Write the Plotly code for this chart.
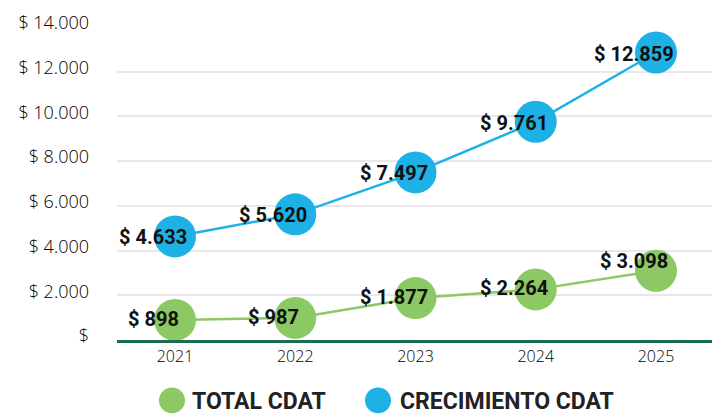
import plotly.graph_objects as go

years = ["2021", "2022", "2023", "2024", "2025"]
total_cdat = [898, 987, 1877, 2264, 3098]
crecimiento_cdat = [4633, 5620, 7497, 9761, 12859]
y_ticks = [0, 2000, 4000, 6000, 8000, 10000, 12000, 14000]
series_names = ["TOTAL CDAT", "CRECIMIENTO CDAT"]

GREEN = "#8cc863"
BLUE = "#1eb1e6"


def fmt(v):
    return "$ " + f"{v:,}".replace(",", ".") if v else "$"


tick_text = [fmt(v) for v in y_ticks]

fig = go.Figure()
for vals, col, name in [(total_cdat, GREEN, series_names[0]), (crecimiento_cdat, BLUE, series_names[1])]:
    fig.add_trace(go.Scatter(
        x=years, y=vals, mode="lines+markers", name=name,
        line=dict(color=col, width=2.5),
        marker=dict(color=col, size=42),
        showlegend=False, hoverinfo="skip",
    ))

label_font = dict(family="Roboto", size=20, color="#111")
annotations = []
for i, v in enumerate(total_cdat):
    annotations.append(dict(x=i, y=v, xref="x", yref="y", text="<b>" + fmt(v) + "</b>",
                            showarrow=False, xshift=-22, yshift=(10 if i == 4 else 1),
                            font=label_font))
for i, v in enumerate(crecimiento_cdat):
    annotations.append(dict(x=i, y=v, xref="x", yref="y", text="<b>" + fmt(v) + "</b>",
                            showarrow=False, xshift=-22, yshift=-1,
                            font=label_font))

# custom legend
shapes = []
legend_items = [(series_names[0], GREEN, 172, 190), (series_names[1], BLUE, 378, 398)]
for name, col, cx, tx in legend_items:
    shapes.append(dict(type="circle", xref="paper", yref="paper",
                       x0=(cx - 13 - 117) / 595, x1=(cx + 13 - 117) / 595,
                       y0=(340 - 414) / 316, y1=(340 - 388) / 316,
                       fillcolor=col, line=dict(width=0)))
    annotations.append(dict(x=(tx - 117) / 595, y=(340 - 402) / 316, xref="paper", yref="paper",
                            xanchor="left", yanchor="middle", showarrow=False,
                            text="<b>" + name + "</b>",
                            font=dict(family="Roboto", size=23, color="#222")))

fig.update_layout(
    width=722, height=415,
    margin=dict(l=117, r=10, t=24, b=75),
    paper_bgcolor="white", plot_bgcolor="white",
    showlegend=False,
    annotations=annotations, shapes=shapes,
    xaxis=dict(type="category", showgrid=False, showline=True, linecolor="#1b6b4f", linewidth=3,
               ticks="", tickfont=dict(family="Open Sans", size=16, color="#000", weight=300),
               zeroline=False),
    yaxis=dict(range=[0, 14000], tickvals=y_ticks, ticktext=tick_text,
               showgrid=True, gridcolor="#e8e8e8", gridwidth=1.5, zeroline=False,
               showline=False, ticks="", ticklabelstandoff=27, ticklabelshift=-4,
               tickfont=dict(family="Open Sans", size=18, color="#000", weight=300)),
)

fig.write_html("out.html", config={"displayModeBar": False},
               post_script="document.body.style.margin='0px';")
